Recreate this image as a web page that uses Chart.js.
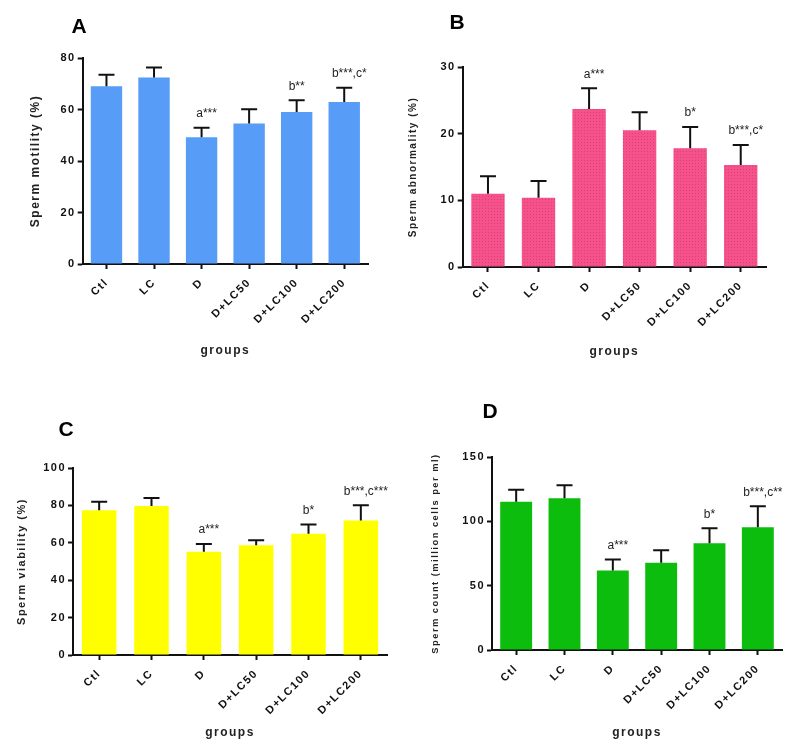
<!DOCTYPE html>
<html>
<head>
<meta charset="utf-8">
<script src="https://cdn.jsdelivr.net/npm/chart.js@4.4.1/dist/chart.umd.min.js"></script>
<style>
  body { margin: 0; background: #fff; width: 800px; height: 755px; position: relative; overflow: hidden; }
  canvas { position: absolute; }
</style>
</head>
<body>
<canvas id="chartA" width="400" height="375" style="left:0;top:0"></canvas>
<canvas id="chartB" width="400" height="375" style="left:400px;top:0"></canvas>
<canvas id="chartC" width="400" height="375" style="left:0;top:380px"></canvas>
<canvas id="chartD" width="400" height="375" style="left:400px;top:380px"></canvas>
<script>
// Groups (shared by all four panels)
const groups = ['Ctl', 'LC', 'D', 'D+LC50', 'D+LC100', 'D+LC200'];

// A - sperm motility
const motilityMean = [69.0, 72.4, 49.2, 54.6, 59.0, 62.9];
const motilitySD = [4.5, 3.9, 3.7, 5.5, 4.6, 5.5];
const motilityMarks = ['', '', 'a***', '', 'b**', 'b***,c*'];

// B - sperm abnormality
const abnormalityMean = [11.0, 10.4, 23.7, 20.5, 17.8, 15.3];
const abnormalitySD = [2.6, 2.5, 3.1, 2.7, 3.2, 3.0];
const abnormalityMarks = ['', '', 'a***', '', 'b*', 'b***,c*'];

// C - sperm viability
const viabilityMean = [77.4, 79.7, 55.2, 58.7, 64.8, 71.9];
const viabilitySD = [4.6, 4.3, 4.1, 2.7, 5.0, 8.2];
const viabilityMarks = ['', '', 'a***', '', 'b*', 'b***,c***'];

// D - sperm count
const countMean = [115.3, 117.9, 61.8, 67.8, 83.0, 95.4];
const countSD = [9.3, 10.1, 8.5, 9.8, 11.6, 16.3];
const countMarks = ['', '', 'a***', '', 'b*', 'b***,c**'];

const FONT = 'Arial, "Liberation Sans", sans-serif';

// letter spacing like the Prism export
const spacingPlugin = {
    id: 'spacing',
    beforeUpdate(chart) { chart.ctx.letterSpacing = '1.5px'; },
    beforeDraw(chart) { chart.ctx.letterSpacing = '1.5px'; }
};

// upward error bars + significance labels + panel letter
const extrasPlugin = {
    id: 'extras',
    afterDatasetsDraw(chart, args, opts) {
        const ctx = chart.ctx;
        const y = chart.scales.y;
        const meta = chart.getDatasetMeta(0);
        const mean = chart.data.datasets[0].data;
        ctx.save();
        ctx.letterSpacing = '0px';
        ctx.strokeStyle = '#111';
        ctx.lineWidth = 2;
        meta.data.forEach((bar, i) => {
            const top = y.getPixelForValue(mean[i] + opts.sd[i]);
            const base = y.getPixelForValue(mean[i]);
            ctx.beginPath();
            ctx.moveTo(bar.x, base);
            ctx.lineTo(bar.x, top);
            ctx.moveTo(bar.x - 8, top);
            ctx.lineTo(bar.x + 8, top);
            ctx.stroke();
            if (opts.marks[i]) {
                ctx.fillStyle = '#222';
                ctx.font = '12px ' + FONT;
                ctx.textAlign = 'center';
                ctx.textBaseline = 'middle';
                ctx.fillText(opts.marks[i], bar.x + (opts.marks[i].length > 3 ? 5 : 0), top - 14);
            }
        });
        // panel letter
        ctx.fillStyle = '#000';
        ctx.font = 'bold 21px ' + FONT;
        ctx.textAlign = 'center';
        ctx.textBaseline = 'middle';
        ctx.fillText(opts.letter, opts.letterX, opts.letterY);
        ctx.restore();
    }
};

function makePanel(id, cfg) {
    const ctx = document.getElementById(id).getContext('2d');
    return new Chart(ctx, {
        type: 'bar',
        data: {
            labels: groups,
            datasets: [{
                data: cfg.mean,
                backgroundColor: cfg.color,
                borderWidth: 0,
                categoryPercentage: 1.0,
                barPercentage: 0.66
            }]
        },
        options: {
            responsive: false,
            animation: false,
            events: [],
            layout: { padding: cfg.padding },
            plugins: {
                legend: { display: false },
                tooltip: { enabled: false },
                extras: {
                    sd: cfg.sd,
                    marks: cfg.marks,
                    letter: cfg.letter,
                    letterX: cfg.letterX,
                    letterY: cfg.letterY
                }
            },
            scales: {
                x: {
                    afterFit: function(scale) { scale.height = cfg.xHeight; },
                    border: { display: true, color: '#111', width: 2 },
                    grid: { display: true, drawOnChartArea: false, drawTicks: true, offset: false, tickLength: 5, tickWidth: 2, tickColor: '#111' },
                    ticks: {
                        autoSkip: false, minRotation: 45, maxRotation: 45, padding: 7,
                        color: '#111', font: { family: FONT, size: 11, weight: 'bold' }
                    },
                    title: {
                        display: true, text: 'groups', color: '#222', padding: 0,
                        font: { family: FONT, size: 12, weight: 'bold' }
                    }
                },
                y: {
                    min: 0,
                    max: cfg.max,
                    afterFit: function(scale) { scale.width = cfg.yWidth; },
                    border: { display: true, color: '#111', width: 2 },
                    grid: { display: true, drawOnChartArea: false, drawTicks: true, tickLength: 5, tickWidth: 2, tickColor: '#111' },
                    ticks: {
                        stepSize: cfg.step, padding: 2,
                        color: '#111', font: { family: FONT, size: 11, weight: 'bold' }
                    },
                    title: {
                        display: true, text: cfg.yTitle, color: '#222', padding: 0,
                        font: { family: FONT, size: cfg.yTitleSize, weight: 'bold' }
                    }
                }
            }
        },
        plugins: [spacingPlugin, extrasPlugin]
    });
}

function dotPattern(id, base, dot) {
    const tile = document.createElement('canvas');
    tile.width = 3;
    tile.height = 3;
    const g = tile.getContext('2d');
    g.fillStyle = base;
    g.fillRect(0, 0, 3, 3);
    g.fillStyle = dot;
    g.fillRect(1, 1, 1, 1);
    return document.getElementById(id).getContext('2d').createPattern(tile, 'repeat');
}

makePanel('chartA', {
    mean: motilityMean, sd: motilitySD, marks: motilityMarks, color: '#579CF6',
    max: 80, step: 20, yTitle: 'Sperm motility (%)', yTitleSize: 12,
    padding: { left: 28.5, right: 32, top: 58, bottom: 17 }, yWidth: 54.2, xHeight: 94,
    letter: 'A', letterX: 79, letterY: 27
});

makePanel('chartB', {
    mean: abnormalityMean, sd: abnormalitySD, marks: abnormalityMarks,
    color: dotPattern('chartB', '#F5528C', '#DE3F78'),
    max: 30, step: 10, yTitle: 'Sperm abnormality (%)', yTitleSize: 10,
    padding: { left: 7, right: 34, top: 67, bottom: 16 }, yWidth: 55.7, xHeight: 92,
    letter: 'B', letterX: 57, letterY: 23
});

makePanel('chartC', {
    mean: viabilityMean, sd: viabilitySD, marks: viabilityMarks, color: '#FFFF00',
    max: 100, step: 20, yTitle: 'Sperm viability (%)', yTitleSize: 11,
    padding: { left: 15, right: 13, top: 88, bottom: 15 }, yWidth: 58, xHeight: 85,
    letter: 'C', letterX: 66, letterY: 50
});

makePanel('chartD', {
    mean: countMean, sd: countSD, marks: countMarks, color: '#0DBD0D',
    max: 150, step: 50, yTitle: 'Sperm count (million cells per ml)', yTitleSize: 9.3,
    padding: { left: 30, right: 18, top: 77, bottom: 15 }, yWidth: 62, xHeight: 90,
    letter: 'D', letterX: 90, letterY: 32
});
</script>
</body>
</html>
